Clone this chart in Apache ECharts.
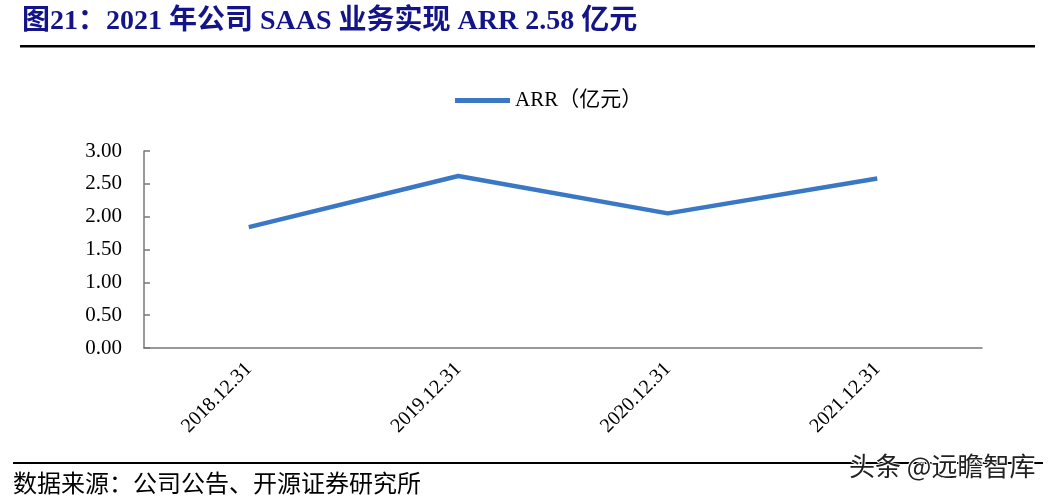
<!DOCTYPE html>
<html><head><meta charset="utf-8">
<script src="https://cdn.jsdelivr.net/npm/echarts@6/dist/echarts.min.js"></script>
<style>html,body{margin:0;padding:0;background:#fff}#c{width:1055px;height:501px}</style>
</head><body><div id="c"></div>
<script>
const categories = ['2018.12.31','2019.12.31','2020.12.31','2021.12.31'];
const arrValues = [1.84, 2.62, 2.05, 2.58];
const seriesName = 'ARR（亿元）';
const yTicks = {min:0, max:3, interval:0.5};
const titleText = '图21：2021 年公司 SAAS 业务实现 ARR 2.58 亿元';
const sourceText = '数据来源：公司公告、开源证券研究所';
const watermark = '头条 @远瞻智库';

const serif = '"Liberation Serif","Times New Roman","Noto Sans CJK SC",serif';
const chart = echarts.init(document.getElementById('c'));
chart.setOption({
  animation:false,
  backgroundColor:'#fff',
  legend:{
    data:[seriesName], top:85, left:450,
    itemWidth:55, itemHeight:5, itemGap:6,
    icon:'rect',
    textStyle:{fontFamily:serif, fontSize:21, color:'#000'}
  },
  grid:{left:144, right:73, top:151, bottom:153},
  xAxis:{
    type:'category', data:categories, boundaryGap:true,
    axisLine:{lineStyle:{color:'#777', width:1.5}},
    axisTick:{inside:true, length:6, lineStyle:{color:'#777', width:1.5}},
    axisLabel:{rotate:45, fontFamily:serif, fontSize:20, color:'#000', margin:18}
  },
  yAxis:{
    type:'value', min:yTicks.min, max:yTicks.max, interval:yTicks.interval,
    axisLine:{show:true, lineStyle:{color:'#777', width:1.5}},
    axisTick:{show:true, inside:true, length:6, lineStyle:{color:'#777', width:1.5}},
    splitLine:{show:false},
    axisLabel:{formatter:v=>v.toFixed(2), fontFamily:serif, fontSize:21, color:'#000', margin:22}
  },
  series:[{
    name:seriesName, type:'line', data:arrValues,
    showSymbol:false, symbol:'none',
    lineStyle:{color:'#3a78c6', width:4.5},
    itemStyle:{color:'#3a78c6'}
  }],
  graphic:[
    {type:'text', left:22, top:8, style:{text:titleText, font:'bold 28px '+serif, fill:'#14148a'}},
    {type:'rect', shape:{x:20, y:45, width:1015, height:2.5}, style:{fill:'#000'}},
    {type:'rect', shape:{x:13, y:462, width:1030, height:2}, style:{fill:'#000'}},
    {type:'text', left:13, top:474, style:{text:sourceText, font:'24px '+serif, fill:'#000'}},
    {type:'text', left:848, top:452, z:10, style:{text:watermark, font:'26px "Noto Sans CJK SC",sans-serif', fill:'#222', stroke:'#fff', lineWidth:2}}
  ]
});
</script></body></html>
